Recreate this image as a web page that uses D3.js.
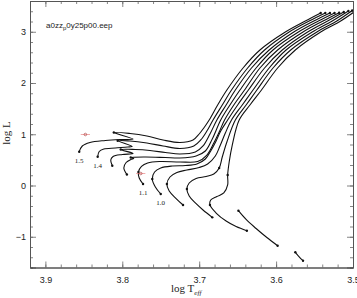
<!DOCTYPE html>
<html>
<head>
<meta charset="utf-8">
<style>
  body { margin: 0; background: #fff; }
  svg { display: block; }
</style>
</head>
<body>
<script src="https://cdn.jsdelivr.net/npm/d3@7"></script>
<script>

// *** DATA (log Teff, log L) ***

var masses = ["1.5", "1.4", "1.3", "1.2", "1.1", "1.0", "0.9", "0.8", "0.7", "0.6", "0.5"];
var labeled = ["1.5", "1.4", "1.1", "1.0"];

var track15 = [[3.856,0.660],[3.852,0.771],[3.842,0.839],[3.822,0.878],[3.803,0.898],[3.786,0.907],[3.811,1.034],[3.790,1.015],[3.768,0.966],[3.747,0.888],[3.725,0.839],[3.708,0.888],[3.700,1.005],[3.694,1.122],
  [3.687,1.278],[3.676,1.571],[3.664,1.863],[3.643,2.293],[3.621,2.644],[3.588,2.995],[3.562,3.210],[3.542,3.366]];
var track14 = [[3.832,0.562],[3.830,0.663],[3.824,0.712],[3.809,0.732],[3.793,0.751],[3.787,0.761],[3.806,0.874],[3.790,0.868],[3.768,0.829],[3.747,0.771],[3.725,0.722],[3.707,0.771],[3.698,0.888],[3.690,1.063],
  [3.682,1.278],[3.670,1.571],[3.658,1.863],[3.637,2.293],[3.615,2.644],[3.583,2.995],[3.557,3.210],[3.536,3.366]];
var track13 = [[3.813,0.386],[3.815,0.498],[3.812,0.566],[3.800,0.605],[3.786,0.624],[3.802,0.702],[3.783,0.702],[3.764,0.683],[3.744,0.644],[3.725,0.615],[3.705,0.654],[3.695,0.771],[3.686,1.005],
  [3.677,1.278],[3.665,1.571],[3.653,1.863],[3.632,2.293],[3.609,2.644],[3.577,2.995],[3.551,3.210],[3.530,3.366]];
var track12 = [[3.794,0.215],[3.798,0.342],[3.795,0.449],[3.789,0.507],[3.785,0.527],[3.789,0.546],[3.770,0.556],[3.744,0.546],[3.725,0.537],[3.704,0.576],[3.692,0.673],[3.683,0.907],
  [3.672,1.278],[3.660,1.571],[3.647,1.863],[3.626,2.293],[3.604,2.644],[3.571,2.995],[3.545,3.210],[3.524,3.366]];
var track11 = [[3.773,0.029],[3.778,0.146],[3.779,0.263],[3.775,0.371],[3.767,0.439],[3.751,0.468],[3.725,0.459],[3.702,0.468],[3.690,0.595],[3.681,0.829],[3.674,1.044],
  [3.667,1.278],[3.655,1.571],[3.641,1.863],[3.621,2.293],[3.598,2.644],[3.565,2.995],[3.539,3.210],[3.518,3.372]];
var track10 = [[3.750,-0.166],[3.757,-0.029],[3.761,0.127],[3.758,0.263],[3.750,0.342],[3.735,0.381],[3.718,0.390],[3.703,0.420],[3.692,0.517],[3.685,0.673],[3.678,0.868],[3.672,1.063],
  [3.663,1.278],[3.650,1.571],[3.636,1.863],[3.615,2.293],[3.592,2.644],[3.559,2.995],[3.533,3.210],[3.512,3.385]];
var track09 = [[3.721,-0.380],[3.730,-0.254],[3.739,-0.107],[3.742,0.029],[3.738,0.166],[3.729,0.254],[3.716,0.302],[3.700,0.351],[3.689,0.420],[3.679,0.576],[3.673,0.771],[3.666,1.024],
  [3.658,1.278],[3.644,1.571],[3.630,1.863],[3.609,2.293],[3.587,2.644],[3.553,2.995],[3.527,3.210],[3.506,3.405]];
var track08 = [[3.683,-0.621],[3.695,-0.478],[3.705,-0.341],[3.713,-0.205],[3.716,-0.068],[3.713,0.049],[3.704,0.137],[3.691,0.176],[3.681,0.224],[3.674,0.342],[3.670,0.556],[3.664,0.849],
  [3.653,1.278],[3.639,1.571],[3.625,1.863],[3.604,2.293],[3.581,2.644],[3.547,2.995],[3.521,3.210],[3.501,3.415]];
var track07 = [[3.638,-0.882],[3.652,-0.800],[3.665,-0.693],[3.678,-0.537],[3.686,-0.380],[3.685,-0.283],[3.677,-0.215],[3.668,-0.146],[3.663,0.010],[3.663,0.205],[3.661,0.459],[3.657,0.790],
  [3.648,1.278],[3.634,1.571],[3.619,1.863],[3.598,2.293],[3.575,2.644],[3.542,2.995],[3.516,3.210],[3.495,3.424]];
var track06 = [[3.649,-0.492],[3.639,-0.663],[3.626,-0.839],[3.612,-1.015],[3.598,-1.175]];
var track05 = [[3.575,-1.303],[3.570,-1.391],[3.565,-1.467]];

var tracks = [track15, track14, track13, track12, track11, track10, track09, track08, track07, track06, track05];

// EEP dots drawn on the tracks
var eepDots = [
  [3.856,0.660],[3.832,0.562],[3.813,0.386],[3.794,0.215],[3.773,0.029],[3.750,-0.166],[3.721,-0.380],[3.683,-0.621],[3.638,-0.882],
  [3.811,1.034],[3.806,0.874],[3.802,0.702],[3.789,0.546],
  [3.779,0.263],[3.761,0.127],[3.742,0.029],[3.716,-0.068],[3.686,-0.380],
  [3.674,0.342],[3.663,0.205],
  [3.542,3.366],[3.536,3.366],[3.530,3.366],[3.524,3.366],[3.518,3.372],[3.512,3.385],[3.506,3.405],[3.501,3.415],
  [3.649,-0.492],[3.598,-1.175],[3.575,-1.303],[3.565,-1.467]
];

// observed stars
var obsT = [3.848, 3.776];
var obsL = [0.995, 0.234];
var obsErrT = [0.006, 0.006];

var xMajor = [3.9, 3.8, 3.7, 3.6, 3.5];
var yMajor = [-1, 0, 1, 2, 3];

// *** LAYOUT ***

var W = 357, H = 298;
var pLeft = 30, pRight = 353, pTop = 1, pBottom = 267.5;

var x = d3.scaleLinear().domain([3.92, 3.5]).range([pLeft, pRight]);
var y = d3.scaleLinear().domain([-1.6, 3.6]).range([pBottom, pTop]);

var svg = d3.select("body").append("svg")
  .attr("width", W)
  .attr("height", H)
  .style("font-family", "'Liberation Sans', Arial, sans-serif");

svg.append("defs").append("clipPath").attr("id", "clip")
  .append("rect")
  .attr("x", pLeft).attr("y", pTop)
  .attr("width", pRight - pLeft).attr("height", pBottom - pTop);

// minor tick values
var xMinor = d3.range(3.5, 3.921, 0.02).map(function(v){ return +v.toFixed(2); });
var yMinor = d3.range(-1.6, 3.61, 0.2).map(function(v){ return +v.toFixed(1); });

function styleAxis(g){
  g.select(".domain").attr("stroke", "#555").attr("stroke-width", 1);
  g.selectAll(".tick line").attr("stroke", "#666").attr("stroke-width", 0.8);
}

// minor ticks, all four sides
svg.append("g").attr("transform", "translate(0," + pBottom + ")")
  .call(d3.axisBottom(x).tickValues(xMinor).tickSize(-3).tickFormat("")).call(styleAxis);
svg.append("g").attr("transform", "translate(0," + pTop + ")")
  .call(d3.axisTop(x).tickValues(xMinor).tickSize(-3).tickFormat("")).call(styleAxis);
svg.append("g").attr("transform", "translate(" + pLeft + ",0)")
  .call(d3.axisLeft(y).tickValues(yMinor).tickSize(-3).tickFormat("")).call(styleAxis);
svg.append("g").attr("transform", "translate(" + pRight + ",0)")
  .call(d3.axisRight(y).tickValues(yMinor).tickSize(-3).tickFormat("")).call(styleAxis);

// major ticks with labels
var gx = svg.append("g").attr("transform", "translate(0," + pBottom + ")")
  .call(d3.axisBottom(x).tickValues(xMajor).tickSize(-6).tickPadding(9).tickFormat(d3.format(".1f")))
  .call(styleAxis);
gx.selectAll("text").attr("font-size", 9).attr("fill", "#222")
  .attr("font-family", "'Liberation Sans', Arial, sans-serif");

svg.append("g").attr("transform", "translate(0," + pTop + ")")
  .call(d3.axisTop(x).tickValues(xMajor).tickSize(-6).tickFormat("")).call(styleAxis);

var gy = svg.append("g").attr("transform", "translate(" + pLeft + ",0)")
  .call(d3.axisLeft(y).tickValues(yMajor).tickSize(-6).tickPadding(4).tickFormat(d3.format("d")))
  .call(styleAxis);
gy.selectAll("text").attr("font-size", 9).attr("fill", "#222")
  .attr("font-family", "'Liberation Sans', Arial, sans-serif");

svg.append("g").attr("transform", "translate(" + pRight + ",0)")
  .call(d3.axisRight(y).tickValues(yMajor).tickSize(-6).tickFormat("")).call(styleAxis);

// *** TRACKS ***

var plot = svg.append("g").attr("clip-path", "url(#clip)");

var line = d3.line()
  .x(function(d){ return x(d[0]); })
  .y(function(d){ return y(d[1]); })
  .curve(d3.curveCatmullRom.alpha(0.5));

plot.selectAll("path.track").data(tracks)
  .enter().append("path")
  .attr("class", "track")
  .attr("d", line)
  .attr("fill", "none")
  .attr("stroke", "#111")
  .attr("stroke-width", 1.1);

plot.selectAll("circle.eep").data(eepDots)
  .enter().append("circle")
  .attr("class", "eep")
  .attr("cx", function(d){ return x(d[0]); })
  .attr("cy", function(d){ return y(d[1]); })
  .attr("r", 1.2)
  .attr("fill", "#111");

// observed stars with error bars
var obs = obsT.map(function(t, i){ return {t: t, l: obsL[i], e: obsErrT[i]}; });
plot.selectAll("line.err").data(obs)
  .enter().append("line")
  .attr("class", "err")
  .attr("x1", function(d){ return x(d.t + d.e); })
  .attr("x2", function(d){ return x(d.t - d.e); })
  .attr("y1", function(d){ return y(d.l); })
  .attr("y2", function(d){ return y(d.l); })
  .attr("stroke", "#e87070")
  .attr("stroke-width", 0.6);
plot.selectAll("circle.obs").data(obs)
  .enter().append("circle")
  .attr("class", "obs")
  .attr("cx", function(d){ return x(d.t); })
  .attr("cy", function(d){ return y(d.l); })
  .attr("r", 1.3)
  .attr("fill", "none")
  .attr("stroke", "#a03030")
  .attr("stroke-width", 0.6);

// mass labels under the starting dots
svg.selectAll("text.mass").data(labeled)
  .enter().append("text")
  .attr("class", "mass")
  .attr("x", function(m){ return x(tracks[masses.indexOf(m)][0][0]); })
  .attr("y", function(m){ return y(tracks[masses.indexOf(m)][0][1]) + 11; })
  .attr("text-anchor", "middle")
  .attr("font-family", "'Liberation Serif', 'DejaVu Serif', serif")
  .attr("font-size", 7)
  .attr("fill", "#222")
  .text(function(m){ return m; });

// *** TEXT ***

var title = svg.append("text")
  .attr("x", 46).attr("y", 28)
  .attr("font-size", 8)
  .attr("fill", "#222");
title.append("tspan").text("a0zz");
title.append("tspan").attr("dy", 2).attr("font-size", 6).text("p");
title.append("tspan").attr("dy", -2).text("0y25p00.eep");

svg.append("text")
  .attr("transform", "translate(10,133) rotate(-90)")
  .attr("text-anchor", "middle")
  .attr("font-family", "'Liberation Serif', 'DejaVu Serif', serif")
  .attr("font-size", 11)
  .attr("fill", "#222")
  .text("log L");

var xl = svg.append("text")
  .attr("x", 171).attr("y", 292)
  .attr("font-family", "'Liberation Serif', 'DejaVu Serif', serif")
  .attr("font-size", 11)
  .attr("fill", "#222");
xl.append("tspan").text("log  T");
xl.append("tspan").attr("dy", 2.5).attr("font-size", 7).attr("font-style", "italic").text("eff");

</script>
</body>
</html>
